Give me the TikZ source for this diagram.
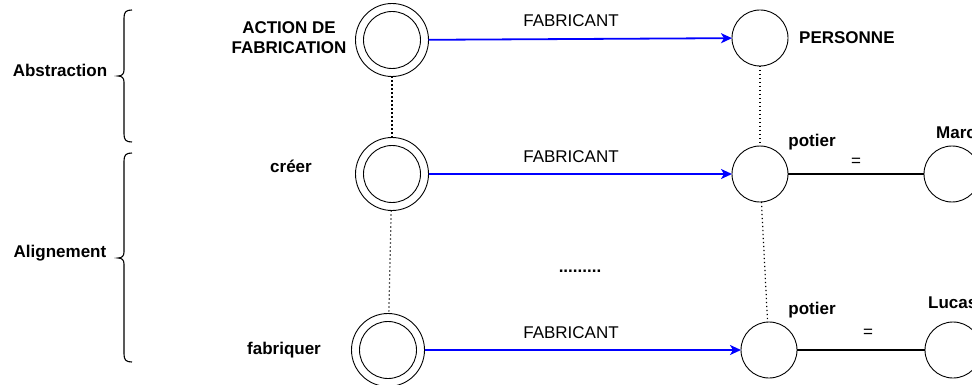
\documentclass[tikz,border=0pt]{standalone}
\usepackage{fontspec}
\setmainfont{Liberation Sans}
\usetikzlibrary{arrows.meta}
\begin{document}
\begin{tikzpicture}[x=1pt,y=-1pt,
  every node/.style={font=\fontsize{17}{20}\selectfont},
  outerc/.style={circle,draw,line width=0.9pt,minimum size=73pt,inner sep=0pt,outer sep=0pt},
  innerc/.style={circle,draw,line width=0.9pt,minimum size=57pt,inner sep=0pt,outer sep=0pt},
  entc/.style={circle,draw,line width=0.9pt,minimum size=56pt,inner sep=0pt,outer sep=0pt},
  fab/.style={draw={rgb,255:red,0;green,0;blue,255},line width=1.8pt,-{Stealth[length=11pt,width=10pt,inset=3pt]}},
  eqline/.style={draw,line width=1.8pt},
  dotline/.style={draw,line width=1.2pt,dash pattern=on 1.2pt off 2.8pt},
  lbl/.style={font=\fontsize{17}{20}\selectfont\bfseries,inner sep=0pt},
  rel/.style={font=\fontsize{17}{20}\selectfont,inner sep=0pt},
  bracestyle/.style={draw,line width=1.1pt}]
\useasboundingbox (0,0) rectangle (972,385);

% circles
\node[outerc] (a1) at (392,40) {};
\node[innerc] (a1i) at (392,40) {};
\node[entc] (p1) at (760,38) {};
\node[outerc] (a2) at (392,174) {};
\node[innerc] (a2i) at (392,174) {};
\node[entc] (p2) at (760,174) {};
\node[entc] (m2) at (952,174) {};
\node[outerc] (a3) at (388,350) {};
\node[innerc] (a3i) at (388,350) {};
\node[entc] (p3) at (769,350) {};
\node[entc] (m3) at (953,350) {};

% connectors
\draw[fab] (a1) -- (p1);
\draw[fab] (a2) -- (p2);
\draw[fab] (a3) -- (p3);
\draw[eqline] (p2) -- (m2);
\draw[eqline] (p3) -- (m3);
\draw[dotline] (a1) -- (a2);
\draw[dotline] (a2) -- (a3);
\draw[dotline] (p1) -- (p2);
\draw[dotline] (p2) -- (p3);

% labels
\node[rel] (f1) at (571,21) {FABRICANT};
\node[rel] (f2) at (571,157) {FABRICANT};
\node[rel] (f3) at (571,333) {FABRICANT};
\node[lbl,align=center] (t1) at (289,38) {ACTION DE\\FABRICATION};
\node[lbl,anchor=west] (t2) at (799,38) {PERSONNE};
\node[lbl] (t3) at (291,166) {créer};
\node[lbl] (t4) at (284,350) {fabriquer};
\node[lbl] (t5) at (812,142) {potier};
\node[lbl] (t6) at (812,310) {potier};
\node[rel] (e1) at (856,162) {=};
\node[rel] (e2) at (868,333) {=};
\node[lbl,anchor=west] (t7) at (936,133) {Marc};
\node[lbl,anchor=west] (t8) at (928,303) {Lucas};
\node[lbl] (dots) at (580,271) {.........};
\node[lbl] (ab) at (60,70) {Abstraction};
\node[lbl] (al) at (60,253) {Alignement};

% braces
\draw[bracestyle] (132,10) .. controls (126,10) and (124,12) .. (124,18) -- (124,70)
  .. controls (124,74) and (122,76) .. (118,76) .. controls (122,76) and (124,78) .. (124,82)
  -- (124,134) .. controls (124,140) and (126,142) .. (132,142);
\draw[bracestyle] (132,153) .. controls (126,153) and (124,155) .. (124,161) -- (124,252)
  .. controls (124,256) and (122,258) .. (118,258) .. controls (122,258) and (124,260) .. (124,264)
  -- (124,354) .. controls (124,360) and (126,362) .. (132,362);
\end{tikzpicture}
\end{document}
